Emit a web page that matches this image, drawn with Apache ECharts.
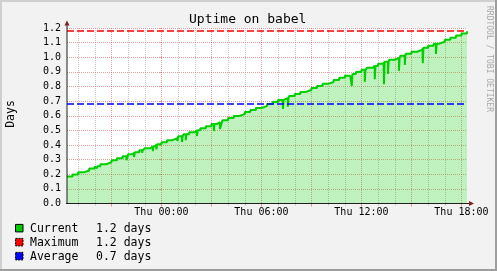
<!DOCTYPE html>
<html>
<head>
<meta charset="utf-8">
<script src="https://cdn.jsdelivr.net/npm/echarts@6/dist/echarts.min.js"></script>
<style>
html,body{margin:0;padding:0;background:#f2f2f2;}
#chart{width:497px;height:271px;}
</style>
</head>
<body>
<div id="chart"></div>
<script>
// ---------- data (x in hours relative to Thu 00:00) ----------
const titleText = 'Uptime on babel';
const unitText = 'Days';
const watermarkText = 'RRDTOOL / TOBI OETIKER';
const xStartHour = -17 / 3;      // Wed 18:20
const xEndHour = 55 / 3;         // Thu 18:20
const sampleMinutes = 20;
const uptimeDays = [
  0.185, 0.199, 0.213, 0.226, 0.240, 0.254, 0.268, 0.281, 0.295, 0.309,
  0.323, 0.336, 0.350, 0.364, 0.378, 0.391, 0.405, 0.419, 0.433, 0.446,
  0.460, 0.474, 0.488, 0.501, 0.515, 0.529, 0.543, 0.556, 0.570, 0.584,
  0.598, 0.611, 0.625, 0.639, 0.653, 0.666, 0.680, 0.694, 0.708, 0.721,
  0.735, 0.749, 0.763, 0.776, 0.790, 0.804, 0.818, 0.831, 0.845, 0.859,
  0.873, 0.886, 0.900, 0.914, 0.928, 0.941, 0.955, 0.969, 0.983, 0.996,
  1.010, 1.024, 1.038, 1.051, 1.065, 1.079, 1.093, 1.106, 1.120, 1.134,
  1.148, 1.162, 1.178
];
const dipHours = [-4.60, -3.89, -2.10, -1.64, -1.16, -0.52, -0.30, 0.95, 1.23, 1.46, 2.13, 3.14, 3.51,
                  7.29, 7.58, 11.42, 12.20, 12.80, 13.35, 13.59, 14.25, 14.60, 15.68, 16.47];
const dipDays = [0.200, 0.240, 0.295, 0.318, 0.347, 0.358, 0.370, 0.427, 0.420, 0.433, 0.461, 0.495, 0.510,
                 0.647, 0.661, 0.803, 0.832, 0.850, 0.815, 0.885, 0.907, 0.947, 0.960, 1.022];
const dipLengthHours = [0.04, 0.04, 0.12, 0.04, 0.04, 0.04, 0.04, 0.04, 0.04, 0.04, 0.04, 0.04, 0.12,
                        0.04, 0.04, 0.04, 0.04, 0.04, 0.04, 0.04, 0.04, 0.04, 0.04, 0.04];
const minorHours = [-5, -4, -2, -1, 1, 2, 4, 5, 7, 8, 10, 11, 13, 14, 16, 17];
const majorHours = [-3, 0, 3, 6, 9, 12, 15, 18];
const labelHours = [0, 6, 12, 18];
const labelTexts = ['Thu 00:00', 'Thu 06:00', 'Thu 12:00', 'Thu 18:00'];
const legendNames = ['Current', 'Maximum', 'Average'];
const legendColors = ['#00cc00', '#ff0000', '#0000ff'];

// ---------- build series ----------
const stepH = sampleMinutes / 60;
const base = uptimeDays.map((v, i) => [xStartHour + i * stepH, v]);
function baseAt(t) {
  let v = uptimeDays[0];
  for (const p of base) { if (p[0] <= t) v = p[1]; }
  return v;
}
const points = base.slice();
dipHours.forEach((h, i) => {
  points.push([h, dipDays[i]]);
  points.push([h + dipLengthHours[i], baseAt(h + dipLengthHours[i])]);
});
points.sort((a, b) => a[0] - b[0]);

const currentDays = uptimeDays[uptimeDays.length - 1];
const maxDays = Math.max(...uptimeDays);
const avgDays = uptimeDays.reduce((s, v) => s + v, 0) / uptimeDays.length;
const legendValues = [currentDays, maxDays, avgDays].map(v => v.toFixed(1) + ' days');

// ---------- layout ----------
const G = { left: 67, top: 28, width: 400, bottom: 203.5 };
const MONO = '"DejaVu Sans Mono", monospace';
const minorCol = 'rgba(160,150,150,0.55)';
const majorCol = 'rgba(222,79,79,0.55)';

const graphic = [
  // 3D frame
  { type: 'rect', shape: { x: 0, y: 0, width: 497, height: 2 }, style: { fill: '#cfcfcf' }, silent: true },
  { type: 'rect', shape: { x: 0, y: 0, width: 2, height: 271 }, style: { fill: '#cfcfcf' }, silent: true },
  { type: 'rect', shape: { x: 0, y: 269, width: 497, height: 2 }, style: { fill: '#9e9e9e' }, silent: true },
  { type: 'rect', shape: { x: 495, y: 0, width: 2, height: 271 }, style: { fill: '#9e9e9e' }, silent: true },
  // title
  { type: 'text', x: 247.7, y: 19.4, style: { text: titleText, font: '13px ' + MONO, fill: '#000', align: 'center', verticalAlign: 'middle' }, silent: true },
  // unit
  { type: 'text', x: 11, y: 114, rotation: Math.PI / 2, style: { text: unitText, font: '11.5px ' + MONO, fill: '#000', align: 'center', verticalAlign: 'middle' }, silent: true },
  // watermark
  { type: 'text', x: 489.5, y: 59, rotation: -Math.PI / 2, style: { text: watermarkText, font: '8px ' + MONO, fill: '#a8a8a8', align: 'center', verticalAlign: 'middle' }, silent: true },
  // axes
  { type: 'line', z: 50, shape: { x1: G.left, y1: G.bottom + 0.5, x2: G.left, y2: 24 }, style: { stroke: '#1f1f1f', lineWidth: 1 }, silent: true },
  { type: 'line', z: 50, shape: { x1: G.left - 1, y1: G.bottom, x2: 470, y2: G.bottom }, style: { stroke: '#1f1f1f', lineWidth: 1 }, silent: true },
  { type: 'polygon', z: 51, shape: { points: [[64.5, 25.5], [69.5, 25.5], [67, 20.5]] }, style: { fill: '#801f1f' }, silent: true },
  { type: 'polygon', z: 51, shape: { points: [[469, 201], [469, 206], [474, 203.5]] }, style: { fill: '#801f1f' }, silent: true }
];
const rowY = [228.9, 242.9, 256.9];
legendNames.forEach((n, i) => {
  graphic.push({ type: 'rect', shape: { x: 15.5, y: rowY[i] - 4.5, width: 7.5, height: 7.5 },
    style: { fill: legendColors[i], stroke: '#000', lineWidth: 1, lineDash: i === 0 ? null : [2, 1] }, silent: true });
  graphic.push({ type: 'text', x: 30, y: rowY[i], style: { text: n, font: '11.5px ' + MONO, fill: '#000', align: 'left', verticalAlign: 'middle' }, silent: true });
  graphic.push({ type: 'text', x: 96, y: rowY[i], style: { text: legendValues[i], font: '11.5px ' + MONO, fill: '#000', align: 'left', verticalAlign: 'middle' }, silent: true });
});

const chart = echarts.init(document.getElementById('chart'), null, { renderer: 'canvas' });
chart.setOption({
  animation: false,
  backgroundColor: '#f2f2f2',
  grid: { left: G.left, top: G.top, width: G.width, bottom: 271 - G.bottom, show: true, backgroundColor: '#ffffff', borderWidth: 0 },
  xAxis: [
    {
      type: 'value', position: 'bottom', min: xStartHour, max: xEndHour,
      axisLine: { show: false },
      axisTick: { show: true, customValues: minorHours, length: 2, lineStyle: { color: minorCol } },
      axisLabel: { show: false },
      splitLine: { show: true, lineStyle: { color: minorCol, type: 'dotted', width: 1 } }
    },
    {
      type: 'value', position: 'bottom', min: xStartHour, max: xEndHour,
      axisLine: { show: false },
      axisTick: { show: true, customValues: majorHours, length: 3, lineStyle: { color: majorCol } },
      axisLabel: {
        show: true, customValues: labelHours, margin: 4,
        fontFamily: 'DejaVu Sans Mono', fontSize: 10, color: '#000',
        formatter: v => labelTexts[labelHours.indexOf(Math.round(v))] || ''
      },
      splitLine: { show: true, lineStyle: { color: majorCol, type: 'dotted', width: 1 } }
    }
  ],
  yAxis: {
    type: 'value', min: 0, max: 1.2, interval: 0.1,
    axisLine: { show: false },
    axisTick: { show: true, length: 2, lineStyle: { color: majorCol } },
    axisLabel: { margin: 6, fontFamily: 'DejaVu Sans Mono', fontSize: 10, color: '#000', formatter: v => v.toFixed(1) },
    splitLine: { show: true, lineStyle: { color: majorCol, type: 'dotted', width: 1 } }
  },
  series: [
    {
      type: 'line', xAxisIndex: 0, data: points, step: 'end', symbol: 'none',
      lineStyle: { color: '#00d000', width: 2 },
      areaStyle: { color: 'rgba(0,204,0,0.25)', opacity: 1 },
      z: 3,
      markLine: {
        silent: true, symbol: 'none', label: { show: false }, animation: false,
        data: [
          { yAxis: maxDays, lineStyle: { color: '#ff0000', type: [7, 3], width: 1.5 } },
          { yAxis: avgDays, lineStyle: { color: '#0000ff', type: [7, 3], width: 1.5 } }
        ]
      }
    }
  ],
  graphic: graphic
});
</script>
</body>
</html>
